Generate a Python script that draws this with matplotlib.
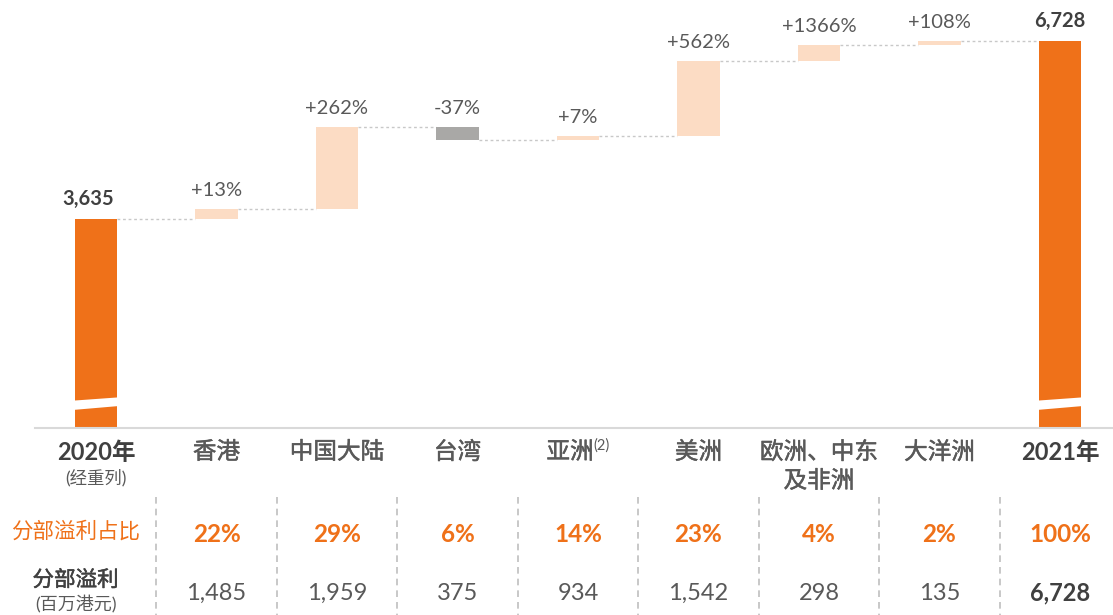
import numpy as np
import matplotlib.pyplot as plt
import matplotlib.patheffects as pe
from matplotlib.lines import Line2D
from matplotlib.patches import Polygon
from matplotlib.transforms import blended_transform_factory

plt.rcParams['font.family'] = ['Lato', 'Noto Sans CJK SC', 'DejaVu Sans']

# data
categories = ['2020年', '香港', '中国大陆', '台湾', '亚洲', '美洲',
              '欧洲、中东\n及非洲', '大洋洲', '2021年']
total_2020 = 3635
total_2021 = 6728
changes = [172, 1420, -218, 61, 1309, 278, 71]
change_labels = ['+13%', '+262%', '-37%', '+7%', '+562%', '+1366%', '+108%']
share_labels = ['22%', '29%', '6%', '14%', '23%', '4%', '2%', '100%']
profit_labels = ['1,485', '1,959', '375', '934', '1,542', '298', '135', '6,728']

ORANGE = '#EF7119'
PEACH = '#FCDCC4'
GREY_BAR = '#A9A8A6'
TEXT = '#595959'
DARK = '#404040'

W, H = 1113, 615
fig = plt.figure(figsize=(W / 100, H / 100), dpi=100)

px_per_cat = 120.5
x0_px = 96
left_px, right_px, base_px = 35, 1113, 428
ax = fig.add_axes([left_px / W, 1 - base_px / H, (right_px - left_px) / W, base_px / H])
ax.set_xlim((left_px - x0_px) / px_per_cat, (right_px - x0_px) / px_per_cat)
ax.set_ylim(0, base_px * 17.39)
for s in ['top', 'right', 'left']:
    ax.spines[s].set_visible(False)
ax.spines['bottom'].set_color('#D9D9D9')
ax.spines['bottom'].set_linewidth(1.5)
ax.set_xticks([])
ax.set_yticks([])

bw = 0.35
x = np.arange(len(categories))

# totals
ax.bar([x[0], x[-1]], [total_2020, total_2021], width=bw, color=ORANGE, zorder=2)

# floating bars
running = total_2020
for i, (d, lab) in enumerate(zip(changes, change_labels)):
    xi = x[i + 1]
    bottom = running if d >= 0 else running + d
    color = PEACH if d >= 0 else GREY_BAR
    ax.bar(xi, abs(d), bottom=bottom, width=bw, color=color, zorder=2)
    top = max(running, running + d)
    ax.annotate(lab, (xi, top), xytext=(0, 7.5), textcoords='offset points',
                ha='center', va='bottom', fontsize=14.5, color=TEXT)
    # connector from previous bar
    ax.plot([x[i] + bw / 2, xi - bw / 2], [running, running], ls=(0, (2, 2)),
            color='#C8C8C8', lw=1, zorder=1)
    running += d
ax.plot([x[-2] + bw / 2, x[-1] - bw / 2], [running, running], ls=(0, (2, 2)),
        color='#C8C8C8', lw=1, zorder=1)

for xi, v, dx in [(x[0], total_2020, -6), (x[-1], total_2021, 0)]:
    ax.annotate(f'{v:,}', (xi, v), xytext=(dx, 7.5), textcoords='offset points',
                ha='center', va='bottom', fontsize=14.5, fontweight='bold', color=DARK)
    # break mark
    xl, xr = xi - bw / 2 - 0.02, xi + bw / 2 + 0.02
    ax.add_patch(Polygon([[xl, 313], [xr, 383], [xr, 534], [xl, 475]],
                         closed=True, facecolor='white', edgecolor='none', zorder=3))

tr = blended_transform_factory(ax.transData, fig.transFigure)


def fy(py):
    return 1 - py / H


def thick(color):
    # CJK labels in the original are a little heavier than Regular
    return [pe.withStroke(linewidth=0.35, foreground=color)]


# category labels
for i, c in enumerate(categories):
    if i in (0, len(categories) - 1):
        ax.text(x[i], fy(452), c, transform=tr, ha='center', va='center',
                fontsize=17, fontweight='bold', color=DARK)
    elif c == '亚洲':
        ax.text(x[i] + 0.13, fy(452), c, transform=tr, ha='right', va='center',
                fontsize=17, color=TEXT, path_effects=thick(TEXT))
        ax.text(x[i] + 0.13, fy(446), '(2)', transform=tr, ha='left', va='center',
                fontsize=10.5, color=TEXT)
    else:
        lines = c.split('\n')
        for k, ln in enumerate(lines):
            ax.text(x[i], fy(452 + 29 * k), ln, transform=tr, ha='center', va='center',
                    fontsize=17, color=TEXT, path_effects=thick(TEXT))
ax.text(x[0], fy(478), '(经重列)', transform=tr, ha='center', va='center',
        fontsize=12.5, color=TEXT)

# table
ax.text(-0.17, fy(531), '分部溢利占比', transform=tr, ha='center', va='center',
        fontsize=15.5, color=ORANGE)
ax.text(-0.17, fy(580), '分部溢利', transform=tr, ha='center', va='center',
        fontsize=15.5, color=DARK, path_effects=thick(DARK))
ax.text(-0.17, fy(604), '(百万港元)', transform=tr, ha='center', va='center',
        fontsize=13, color=TEXT)
for i, (s, p) in enumerate(zip(share_labels, profit_labels)):
    xi = x[i + 1]
    ax.text(xi, fy(534), s, transform=tr, ha='center', va='center',
            fontsize=17.5, fontweight='bold', color=ORANGE)
    last = i == len(profit_labels) - 1
    ax.text(xi, fy(593), p, transform=tr, ha='center', va='center', fontsize=17,
            fontweight='bold' if last else 'normal', color=DARK if last else TEXT)
    line = Line2D([xi - 0.5, xi - 0.5], [fy(497), fy(615)], transform=tr,
                  color='#BFBFBF', lw=1.2, ls=(0, (4, 3)))
    fig.add_artist(line)

fig.savefig('out.png', dpi=100)
